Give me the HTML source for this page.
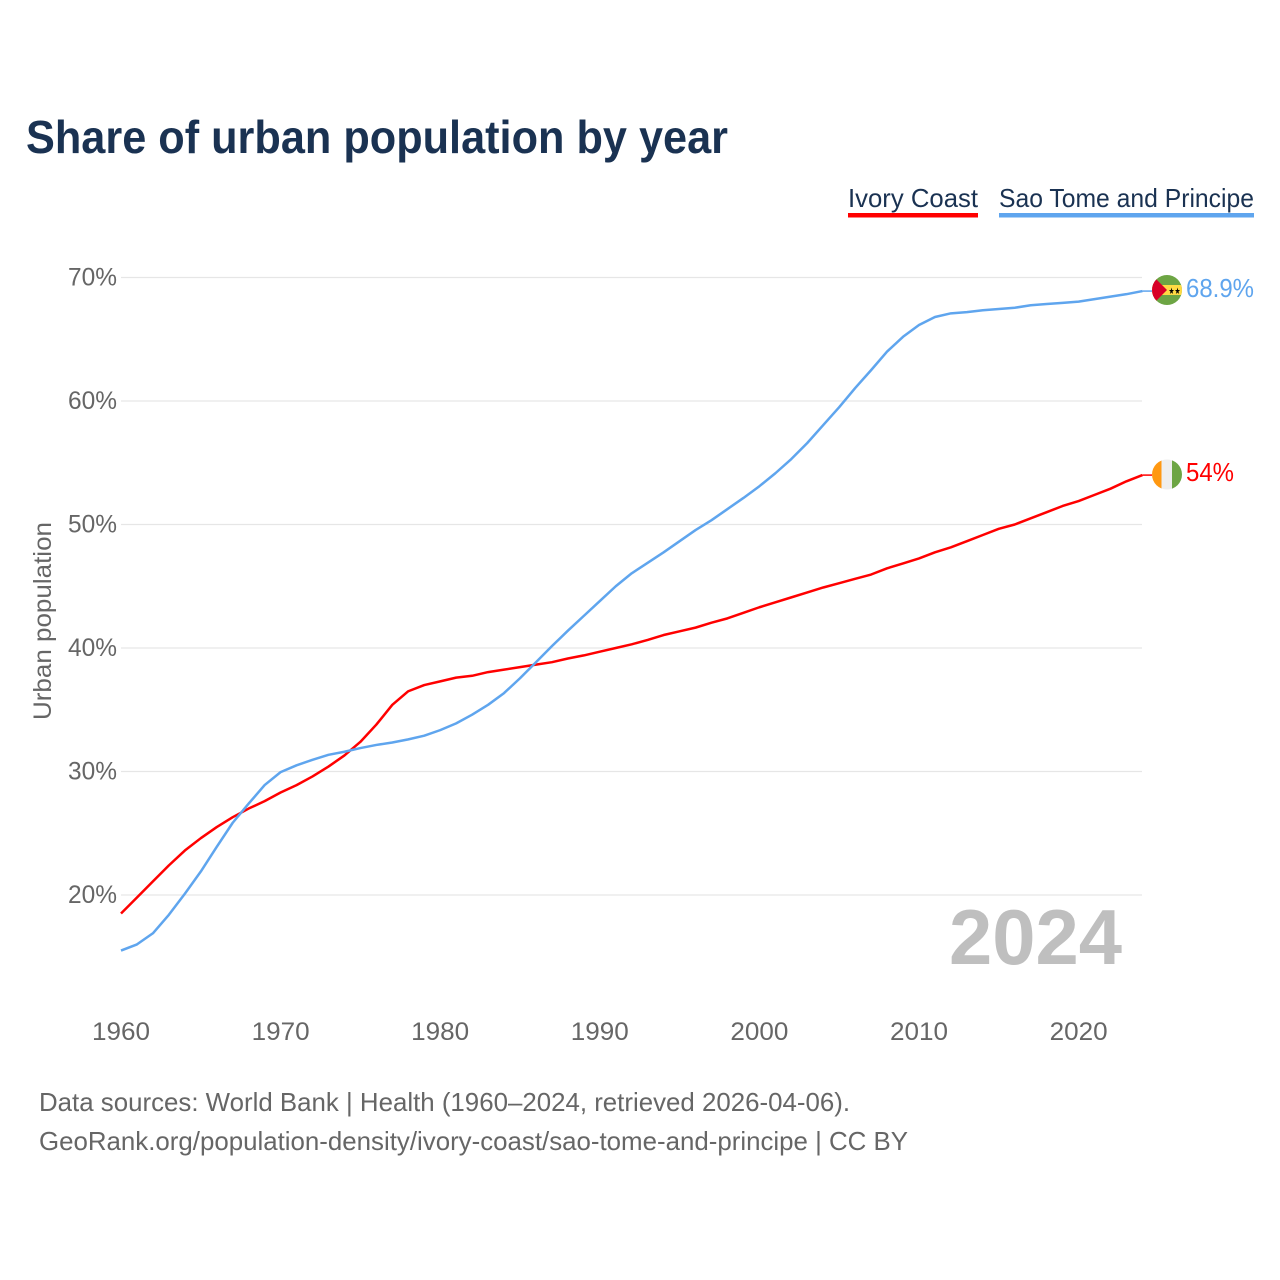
<!DOCTYPE html>
<html lang="en">
<head>
<meta charset="utf-8">
<title>Share of urban population by year</title>
<style>
html,body{margin:0;padding:0;background:#fff;}
svg{display:block;font-family:"Liberation Sans",sans-serif;}
</style>
</head>
<body>
<svg id="chart" width="1280" height="1280" viewBox="0 0 1280 1280" xmlns="http://www.w3.org/2000/svg">
  <defs>
    <clipPath id="flag-clip-st"><circle cx="1167" cy="290" r="15"/></clipPath>
    <clipPath id="flag-clip-ci"><circle cx="1167" cy="474.5" r="15"/></clipPath>
  </defs>
  <rect width="1280" height="1280" fill="#fff"/>
  <text x="26" y="153" font-size="46" font-weight="700" fill="#1a3252" textLength="702" lengthAdjust="spacingAndGlyphs">Share of urban population by year</text>

  <g>
    <text x="848" y="207" font-size="26" fill="#1a3252" textLength="130" lengthAdjust="spacingAndGlyphs">Ivory Coast</text>
    <rect x="848" y="213" width="130" height="4.5" fill="#ff0000"/>
  </g>
  <g>
    <text x="999" y="207" font-size="26" fill="#1a3252" textLength="255" lengthAdjust="spacingAndGlyphs">Sao Tome and Principe</text>
    <rect x="999" y="213" width="255" height="4.5" fill="#5fa5ee"/>
  </g>

  <g id="grid"></g>
  <g id="yticks"></g>
  <g id="xticks"></g>
  <text transform="translate(51,621) rotate(-90)" text-anchor="middle" font-size="25" fill="#666" textLength="198" lengthAdjust="spacingAndGlyphs">Urban population</text>

  <text x="949" y="964" font-size="78" font-weight="700" fill="#bfbfbf" textLength="173" lengthAdjust="spacingAndGlyphs">2024</text>

  <g id="series"></g>

  <g clip-path="url(#flag-clip-st)">
    <rect x="1152" y="275" width="30" height="30" fill="#6da544"/>
    <rect x="1152" y="285" width="30" height="10" fill="#ffda44"/>
    <polygon points="1152,275 1167,290 1152,305" fill="#d80027"/>
    <text x="1168.5" y="294" font-size="9" fill="#000" font-family="'DejaVu Sans',sans-serif" textLength="12" lengthAdjust="spacingAndGlyphs">★★</text>
  </g>
  <g clip-path="url(#flag-clip-ci)">
    <rect x="1152" y="459.5" width="9.5" height="30" fill="#ff9811"/>
    <rect x="1161.5" y="459.5" width="10.5" height="30" fill="#eeeeee"/>
    <rect x="1172" y="459.5" width="10" height="30" fill="#6da544"/>
  </g>
  <text id="label-st" x="1186" y="297" font-size="26" fill="#5fa5ee" textLength="68" lengthAdjust="spacingAndGlyphs"></text>
  <text id="label-ci" x="1186" y="481" font-size="26" fill="#ff0000" textLength="48" lengthAdjust="spacingAndGlyphs"></text>

  <text x="39" y="1111" font-size="26" fill="#666" textLength="811" lengthAdjust="spacingAndGlyphs">Data sources: World Bank | Health (1960–2024, retrieved 2026-04-06).</text>
  <text x="39" y="1150" font-size="26" fill="#666" textLength="869" lengthAdjust="spacingAndGlyphs">GeoRank.org/population-density/ivory-coast/sao-tome-and-principe | CC BY</text>
</svg>
<script>
const startYear = 1960;
const ivoryCoast = [18.5,19.8,21.1,22.4,23.6,24.6,25.5,26.3,27,27.6,28.3,28.9,29.6,30.4,31.3,32.4,33.8,35.4,36.5,37,37.3,37.6,37.75,38.05,38.25,38.45,38.65,38.85,39.15,39.4,39.7,40,40.3,40.65,41.05,41.35,41.65,42.05,42.4,42.85,43.3,43.7,44.1,44.5,44.9,45.25,45.6,45.95,46.45,46.85,47.25,47.75,48.15,48.65,49.15,49.65,50,50.5,51,51.5,51.9,52.4,52.9,53.5,54];
const saoTome = [15.5,16,16.9,18.4,20.1,21.9,23.9,25.85,27.4,28.9,29.95,30.5,30.95,31.35,31.6,31.9,32.15,32.35,32.6,32.9,33.35,33.9,34.6,35.4,36.35,37.55,38.85,40.15,41.4,42.6,43.8,45,46.05,46.9,47.75,48.65,49.55,50.35,51.25,52.15,53.1,54.15,55.3,56.6,58.05,59.5,61.05,62.5,64,65.2,66.15,66.8,67.1,67.2,67.35,67.45,67.55,67.75,67.85,67.95,68.05,68.25,68.45,68.65,68.9];
const yTickValues = [20,30,40,50,60,70];
const xTickValues = [1960,1970,1980,1990,2000,2010,2020];

const NS = 'http://www.w3.org/2000/svg';
function xScale(year){ return 121 + (year - 1960) * 15.96; }
function yScale(v){ return 895 - (v - 20) * 12.35; }
function make(tag, attrs, parent, text){
  const el = document.createElementNS(NS, tag);
  for (const k in attrs) el.setAttribute(k, attrs[k]);
  if (text !== undefined) el.textContent = text;
  parent.appendChild(el);
  return el;
}
const grid = document.getElementById('grid');
const yticks = document.getElementById('yticks');
const xticks = document.getElementById('xticks');
const series = document.getElementById('series');

yTickValues.forEach(function(v){
  const line = make('line', {x1:121, x2:1142, y1:yScale(v), y2:yScale(v), stroke:'#e6e6e6', 'stroke-width':1.2}, grid);
  
  
  const t = make('text', {x:117, y:yScale(v)+8, 'text-anchor':'end', 'font-size':25, fill:'#666', textLength:49, lengthAdjust:'spacingAndGlyphs'}, yticks, v + '%');
  
  
});
xTickValues.forEach(function(y){
  const t = make('text', {x:xScale(y), y:1040, 'text-anchor':'middle', 'font-size':25, fill:'#666', textLength:58, lengthAdjust:'spacingAndGlyphs'}, xticks, String(y));
  
  
});
function linePath(values){
  return values.map(function(v, i){ return xScale(startYear + i).toFixed(2) + ',' + yScale(v).toFixed(2); }).join(' ');
}
function lastValue(values){ return values[values.length - 1]; }

const redLine = make('polyline', {points:linePath(ivoryCoast), fill:'none', stroke:'#ff0000', 'stroke-width':2.5, 'stroke-linejoin':'round'}, series);


const blueLine = make('polyline', {points:linePath(saoTome), fill:'none', stroke:'#5fa5ee', 'stroke-width':2.5, 'stroke-linejoin':'round'}, series);



const redConnector = make('line', {x1:xScale(2024), x2:1152, y1:yScale(lastValue(ivoryCoast)), y2:yScale(lastValue(ivoryCoast)), stroke:'#ff0000', 'stroke-width':1.5}, series);


const blueConnector = make('line', {x1:xScale(2024), x2:1152, y1:yScale(lastValue(saoTome)), y2:yScale(lastValue(saoTome)), stroke:'#5fa5ee', 'stroke-width':1.5}, series);



document.getElementById('label-st').textContent = lastValue(saoTome) + '%';
document.getElementById('label-ci').textContent = lastValue(ivoryCoast) + '%';
</script>
</body>
</html>
